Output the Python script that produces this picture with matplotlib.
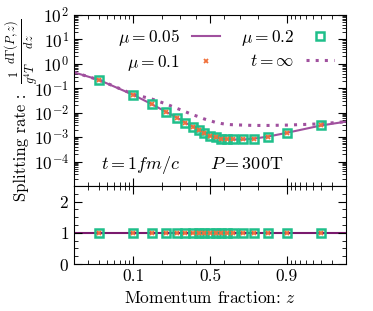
import numpy as np
import matplotlib
matplotlib.use('Agg')
import matplotlib.pyplot as plt

plt.rcParams['font.family'] = 'serif'
plt.rcParams['font.serif'] = ['cmr10', 'DejaVu Serif']
plt.rcParams['mathtext.fontset'] = 'cm'
plt.rcParams['axes.formatter.use_mathtext'] = True
plt.rcParams['font.size'] = 12

# data
z_pts = [0.04, 0.10, 0.16, 0.22, 0.28, 0.33, 0.38, 0.42, 0.46, 0.50,
         0.54, 0.58, 0.62, 0.66, 0.72, 0.78, 0.84, 0.90, 0.96]
rate_mu01 = [0.22, 0.054, 0.022, 0.011, 0.0063, 0.0039, 0.0027, 0.0020, 0.0015, 0.00115,
             0.00098, 0.00087, 0.00082, 0.00080, 0.00080, 0.00087, 0.00105, 0.0015, 0.0030]
rate_mu02 = rate_mu01
ratio_mu01 = [0.98, 0.99, 1.00, 1.00, 1.00, 1.00, 1.00, 1.00, 1.00, 1.00,
              1.00, 0.98, 1.00, 1.00, 0.98, 1.00, 1.00, 1.00, 0.99]
ratio_mu02 = ratio_mu01

z_line = [0.02, 0.04, 0.10, 0.16, 0.22, 0.28, 0.33, 0.38, 0.42, 0.46, 0.50,
          0.54, 0.58, 0.62, 0.66, 0.72, 0.78, 0.84, 0.90, 0.96, 0.98]
rate_mu005 = [0.45, 0.22, 0.054, 0.022, 0.011, 0.0063, 0.0039, 0.0027, 0.0020, 0.0015, 0.00115,
              0.00098, 0.00087, 0.00082, 0.00080, 0.00080, 0.00087, 0.00105, 0.0015, 0.0030, 0.0043]
rate_tinf = [0.45, 0.22, 0.057, 0.036, 0.023, 0.015, 0.011, 0.0082, 0.0068, 0.0055, 0.0047,
             0.0040, 0.0036, 0.0033, 0.0032, 0.0031, 0.0030, 0.0030, 0.0031, 0.0035, 0.0043]

purple = '#a0509e'
dark_purple = '#7a1a6e'
orange = '#f0703a'
green = '#1fbf8a'

fig = plt.figure(figsize=(3.73, 3.11), dpi=100)
ax = fig.add_axes([0.198, 0.402, 0.730, 0.550])
ax2 = fig.add_axes([0.198, 0.151, 0.730, 0.251], sharex=ax)

l1, = ax.plot(z_line, rate_mu005, color=purple, lw=1.5, label=r'$\mu = 0.05$')
l4, = ax.plot(z_line, rate_tinf, color=purple, lw=2.2, ls=(0, (1, 2)), label=r'$t = \infty$')
l3, = ax.plot(z_pts, rate_mu02, ls='none', marker='s', ms=5.5, mfc='none', mec=green, mew=1.8,
              label=r'$\mu = 0.2$')
l2, = ax.plot(z_pts, rate_mu01, ls='none', marker='x', ms=3.5, mec=orange, mew=1.3,
              label=r'$\mu = 0.1$')

ax.set_xscale('logit')
ax.set_yscale('log')
ax.set_xlim(0.02, 0.98)
ax.set_ylim(1e-5, 1e2)
ax.set_yticks([1e-4, 1e-3, 1e-2, 1e-1, 1e0, 1e1, 1e2])

# y label in two pieces: plain text and a smaller fraction
fig.text(0.056, 0.525, 'Splitting rate :', rotation=90, ha='center', va='center', fontsize=12)
fig.text(0.060, 0.835, r'$\frac{1}{g^4T}\frac{d\Gamma(P,z)}{dz}$', rotation=90,
         ha='center', va='center', fontsize=12.5)

ax.text(0.1, 0.1, r'$t = 1fm/c$', transform=ax.transAxes, fontsize=13)
ax.text(0.5, 0.1, r'$P = 300$T', transform=ax.transAxes, fontsize=13)
ax.legend([l1, l2, l3, l4], [h.get_label() for h in [l1, l2, l3, l4]], ncol=2,
          loc='upper right', markerfirst=False, frameon=False, fontsize=12.5,
          handlelength=1.6, columnspacing=1.2, labelspacing=0.3, borderaxespad=0.3,
          handletextpad=0.7)
plt.setp(ax.get_xticklabels(), visible=False)

ax2.axhline(1.0, color=purple, lw=1.2, alpha=0.6, zorder=1)
ax2.plot(z_line, [1.0] * len(z_line), color=dark_purple, lw=1.5, zorder=1)
ax2.plot(z_pts, ratio_mu02, ls='none', marker='s', ms=5.5, mfc='none', mec=green, mew=1.8)
ax2.plot(z_pts, ratio_mu01, ls='none', marker='x', ms=3.5, mec=orange, mew=1.3)
ax2.set_ylim(0, 2.5)
ax2.set_yticks([0, 1, 2])
ax2.set_yticks(np.arange(0, 2.6, 0.25), minor=True)
ax2.set_xticks([0.1, 0.5, 0.9])
ax2.set_xticks([0.02, 0.03, 0.04, 0.05, 0.06, 0.07, 0.08, 0.09, 0.2, 0.3, 0.4,
                0.6, 0.7, 0.8, 0.91, 0.92, 0.93, 0.94, 0.95, 0.96, 0.97], minor=True)
ax2.set_xticklabels(['0.1', '0.5', '0.9'])
ax2.xaxis.set_minor_formatter(matplotlib.ticker.NullFormatter())
ax2.set_xlabel(r'Momentum fraction: $z$', fontsize=12.5)

for a in (ax, ax2):
    a.tick_params(which='both', direction='in', top=True, right=True, labelsize=12.5)
    a.tick_params(which='major', length=6, width=0.8)
    a.tick_params(which='minor', length=3, width=0.6)
ax.yaxis.set_minor_locator(matplotlib.ticker.LogLocator(subs=np.arange(2, 10), numticks=20))
ax.yaxis.set_minor_formatter(matplotlib.ticker.NullFormatter())

fig.savefig('out.png', dpi=100)
